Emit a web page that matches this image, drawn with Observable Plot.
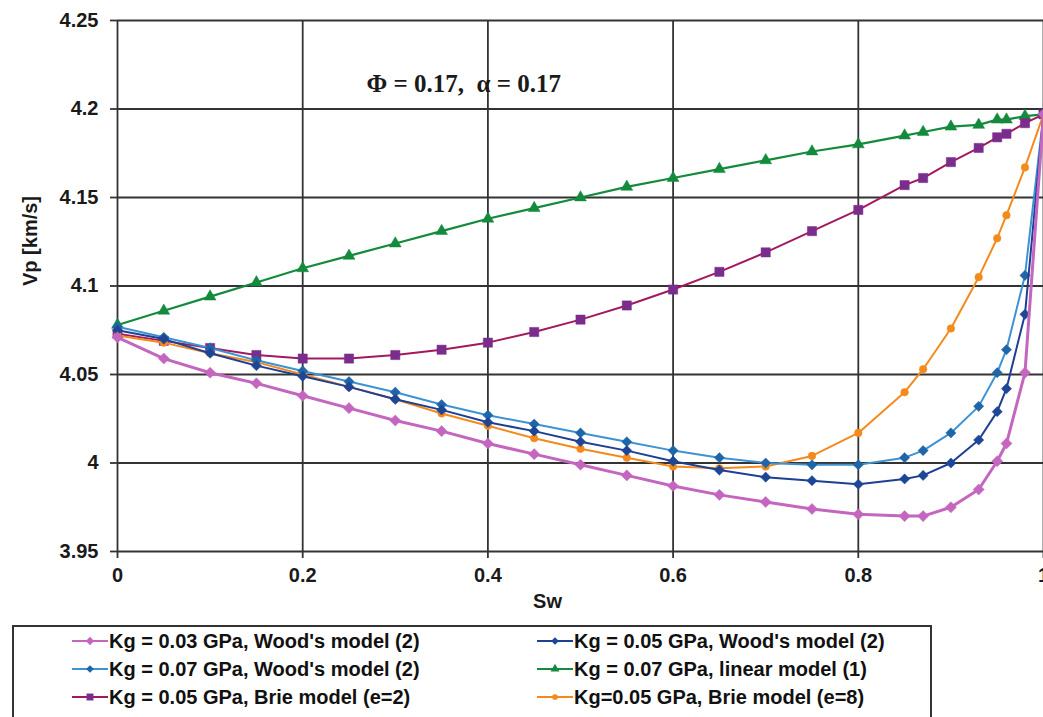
<!DOCTYPE html>
<html>
<head>
<meta charset="utf-8">
<script src="https://cdn.jsdelivr.net/npm/d3@7"></script>
<script src="https://cdn.jsdelivr.net/npm/@observablehq/plot@0.6"></script>
<style>
  html, body { margin: 0; padding: 0; background: #fff; width: 1043px; height: 717px; overflow: hidden; }
  #chart svg { display: block; }
  #legend {
    margin-left: 12px; margin-top: 5px; width: 920px; height: 110px;
    border: 2px solid #333; box-sizing: border-box;
    padding-left: 58px; padding-top: 0px;
    display: grid; grid-template-columns: 465px 390px; grid-auto-rows: 28px;
    font-family: 'Liberation Sans', Arial, sans-serif; font-weight: bold; font-size: 20px; color: #111;
  }
  .item { display: flex; align-items: center; white-space: pre; }
  .item svg { flex: none; margin-right: 1px; }
</style>
</head>
<body>
<div id="chart"></div>
<div id="legend"></div>
<script>
// ---- data ----
const sw = [0, 0.05, 0.1, 0.15, 0.2, 0.25, 0.3, 0.35, 0.4, 0.45, 0.5, 0.55, 0.6, 0.65, 0.7, 0.75, 0.8, 0.85, 0.87, 0.9, 0.93, 0.95, 0.96, 0.98, 1];
const vpWood003 = [4.071, 4.059, 4.051, 4.045, 4.038, 4.031, 4.024, 4.018, 4.011, 4.005, 3.999, 3.993, 3.987, 3.982, 3.978, 3.974, 3.971, 3.970, 3.970, 3.975, 3.985, 4.001, 4.011, 4.051, 4.197];
const vpWood005 = [4.075, 4.070, 4.062, 4.055, 4.049, 4.043, 4.036, 4.030, 4.023, 4.018, 4.012, 4.007, 4.001, 3.996, 3.992, 3.990, 3.988, 3.991, 3.993, 4.000, 4.013, 4.029, 4.042, 4.084, 4.197];
const vpWood007 = [4.077, 4.071, 4.065, 4.058, 4.052, 4.046, 4.040, 4.033, 4.027, 4.022, 4.017, 4.012, 4.007, 4.003, 4.000, 3.999, 3.999, 4.003, 4.007, 4.017, 4.032, 4.051, 4.064, 4.106, 4.197];
const vpLinear007 = [4.078, 4.086, 4.094, 4.102, 4.110, 4.117, 4.124, 4.131, 4.138, 4.144, 4.150, 4.156, 4.161, 4.166, 4.171, 4.176, 4.180, 4.185, 4.187, 4.190, 4.191, 4.194, 4.194, 4.196, 4.197];
const vpBrie2 = [4.073, 4.069, 4.065, 4.061, 4.059, 4.059, 4.061, 4.064, 4.068, 4.074, 4.081, 4.089, 4.098, 4.108, 4.119, 4.131, 4.143, 4.157, 4.161, 4.170, 4.178, 4.184, 4.186, 4.192, 4.197];
const vpBrie8 = [4.072, 4.068, 4.062, 4.057, 4.050, 4.043, 4.036, 4.028, 4.021, 4.014, 4.008, 4.003, 3.998, 3.997, 3.998, 4.004, 4.017, 4.040, 4.053, 4.076, 4.105, 4.127, 4.140, 4.167, 4.197];

const seriesNames = [
  "Kg = 0.03 GPa, Wood's model (2)",
  "Kg = 0.05 GPa, Wood's model (2)",
  "Kg = 0.07 GPa, Wood's model (2)",
  "Kg = 0.07 GPa, linear model (1)",
  "Kg = 0.05 GPa, Brie model (e=2)",
  "Kg=0.05 GPa, Brie model (e=8)"
];
const seriesValues = [vpWood003, vpWood005, vpWood007, vpLinear007, vpBrie2, vpBrie8];

const xTicks = [0, 0.2, 0.4, 0.6, 0.8, 1];
const yTicks = [3.95, 4, 4.05, 4.1, 4.15, 4.2, 4.25];
const xLabel = "Sw";
const yLabel = "Vp [km/s]";
const annotation = "Φ = 0.17,  α = 0.17";
const annotationAt = {x: 0.374, y: 4.2144};

// ---- styles ----
const styles = [
  {line: "#c466bf", mark: "#c466bf", symbol: "diamond2", r: 5.0, width: 3},
  {line: "#1d3f94", mark: "#1d4696", symbol: "diamond2", r: 4.6, width: 2},
  {line: "#3d92d4", mark: "#1f66a8", symbol: "diamond2", r: 4.6, width: 2},
  {line: "#138a3c", mark: "#138a3c", symbol: "triangle", r: 4.4, width: 2.2},
  {line: "#a21a5e", mark: "#7a2d8c", symbol: "square", r: 5.2, width: 2},
  {line: "#f48a1c", mark: "#f48a1c", symbol: "circle", r: 3.8, width: 2}
];
const drawOrder = [3, 4, 5, 2, 1, 0];

const rows = [];
seriesValues.forEach((vals, i) => vals.forEach((v, j) => rows.push({sw: sw[j], vp: v, s: i})));

const fmt = d => String(+d.toFixed(2));

const marks = [
  Plot.ruleY(yTicks, {stroke: "#333", strokeWidth: 1.8}),
  Plot.ruleX(xTicks, {stroke: "#333", strokeWidth: 1.8}),
  Plot.axisX({ticks: xTicks, tickSize: 7, tickPadding: 9, tickFormat: fmt, label: null, stroke: "#333", strokeWidth: 1.8}),
  Plot.axisY({ticks: yTicks, tickSize: 7, tickPadding: 12, tickFormat: fmt, label: null, stroke: "#333", strokeWidth: 1.8})
];
for (const i of drawOrder) {
  const st = styles[i];
  const data = rows.filter(d => d.s === i);
  marks.push(Plot.line(data, {x: "sw", y: "vp", stroke: st.line, strokeWidth: st.width}));
  marks.push(Plot.dot(data, {x: "sw", y: "vp", symbol: st.symbol, r: st.r, fill: st.mark, stroke: st.mark, strokeWidth: 0.5}));
}
marks.push(Plot.text([yLabel], {frameAnchor: "left", dx: -87, rotate: -90, fontSize: 20, fontWeight: "bold"}));
marks.push(Plot.text([xLabel], {frameAnchor: "bottom", dx: -33, dy: 56, fontSize: 20, fontWeight: "bold"}));
marks.push(Plot.text([annotation], {x: () => annotationAt.x, y: () => annotationAt.y, fontSize: 25, fontWeight: "bold", fontFamily: "'Liberation Serif', 'Times New Roman', serif"}));

const chart = Plot.plot({
  width: 1043,
  height: 620,
  marginLeft: 117,
  marginRight: 0,
  marginTop: 20,
  marginBottom: 69,
  x: {domain: [0, 1]},
  y: {domain: [3.95, 4.25]},
  style: {fontFamily: "'Liberation Sans', Arial, sans-serif", fontSize: "20px", fontWeight: "bold", color: "#1a1a1a", background: "#fff", overflow: "visible"},
  marks
});
document.getElementById("chart").appendChild(chart);

// ---- legend ----
const legendOrder = [0, 1, 2, 3, 4, 5];
const legend = d3.select("#legend");
const symMap = {diamond2: d3.symbolDiamond2, triangle: d3.symbolTriangle, square: d3.symbolSquare, circle: d3.symbolCircle};
for (const i of legendOrder) {
  const st = styles[i];
  const item = legend.append("div").attr("class", "item");
  const svg = item.append("svg").attr("width", 36).attr("height", 14);
  svg.append("line").attr("x1", 0).attr("x2", 36).attr("y1", 7).attr("y2", 7).attr("stroke", st.line).attr("stroke-width", 2.2);
  svg.append("path").attr("transform", "translate(18,7)")
    .attr("d", d3.symbol(symMap[st.symbol], Math.PI * (st.r * 0.75) ** 2)())
    .attr("fill", st.mark);
  item.append("span").text(seriesNames[i]);
}
</script>
</body>
</html>
